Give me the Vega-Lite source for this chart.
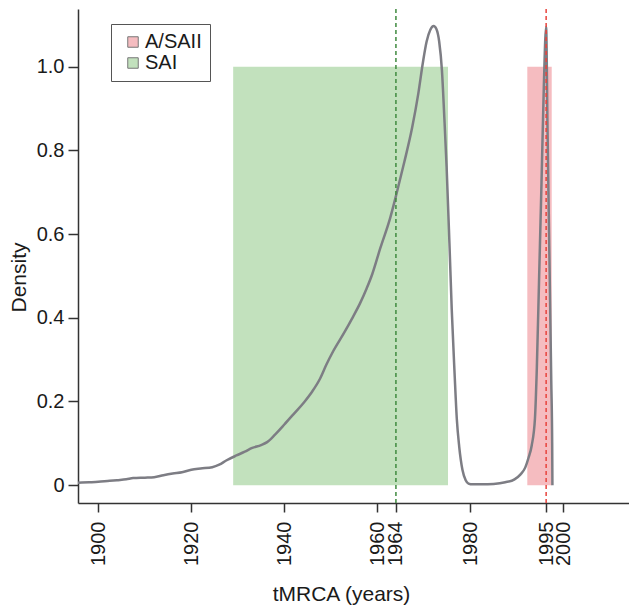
{
  "$schema": "https://vega.github.io/schema/vega-lite/v6.json",
  "width": 551,
  "height": 494,
  "autosize": {"type": "none"},
  "padding": {"left": 78, "top": 9, "right": 0, "bottom": 104},
  "config": {
    "view": {"stroke": null},
    "font": "Liberation Sans",
    "axis": {
      "grid": false,
      "domainColor": "#333333",
      "domainWidth": 1.5,
      "tickColor": "#333333",
      "tickWidth": 1.5,
      "labelColor": "#1a1a1a",
      "titleColor": "#1a1a1a",
      "labelFont": "Liberation Sans",
      "titleFont": "Liberation Sans",
      "labelFontSize": 20,
      "titleFontSize": 21,
      "titleFontWeight": "normal",
      "labelOverlap": false,
      "labelFlush": false,
      "labelBound": false
    }
  },
  "layer": [
    {
      "data": {"values": [
        {"group": "A/SAII", "start": 1992.25, "end": 1997.5, "low": 0, "high": 1},
        {"group": "SAI", "start": 1929.0, "end": 1975.2, "low": 0, "high": 1}
      ]},
      "mark": {"type": "rect", "opacity": 1},
      "encoding": {
        "x": {"field": "start", "type": "quantitative",
          "scale": {"domain": [1895.63, 2014.12], "nice": false, "zero": false},
          "axis": {
            "values": [1900, 1920, 1940, 1960, 1964, 1980, 1996.3, 2000],
            "labelExpr": "datum.value > 1996 && datum.value < 1997 ? '1995' : format(datum.value, 'd')",
            "labelAngle": 270,
            "labelAlign": "right",
            "labelBaseline": "middle",
            "labelPadding": 9,
            "tickSize": 9,
            "title": "tMRCA (years)",
            "titleX": 263,
            "titleY": 97,
            "titleBaseline": "alphabetic"
          }},
        "x2": {"field": "end"},
        "y": {"field": "low", "type": "quantitative",
          "scale": {"domain": [-0.0425, 1.1377], "nice": false, "zero": false},
          "axis": {
            "values": [0, 0.2, 0.4, 0.6, 0.8, 1.0],
            "labelExpr": "datum.value == 0 ? '0' : format(datum.value, '.1f')",
            "labelPadding": 4,
            "tickSize": 10,
            "title": "Density",
            "titleX": -59,
            "titleY": 268,
            "titleAngle": 270,
            "titleAlign": "center",
            "titleBaseline": "middle"
          }},
        "y2": {"field": "high"},
        "color": {"field": "group", "type": "nominal",
          "scale": {"domain": ["A/SAII", "SAI"], "range": ["#f5bcc0", "#c2e1bd"]},
          "legend": {
            "title": null,
            "orient": "none",
            "legendX": 33,
            "legendY": 15,
            "padding": 8,
            "strokeColor": "#555555",
            "fillColor": "#ffffff",
            "symbolType": "square",
            "symbolSize": 110,
            "symbolStrokeColor": "#777777",
            "symbolStrokeWidth": 1,
            "symbolOpacity": 1,
            "symbolOffset": 4,
            "labelOffset": 2,
            "labelFontSize": 20,
            "labelColor": "#1a1a1a",
            "rowPadding": 1
          }}
      }
    },
    {
      "data": {"values": [
        {"year": 1895.63, "density": 0.006}, {"year": 1898, "density": 0.007}, {"year": 1900, "density": 0.008},
        {"year": 1902, "density": 0.010}, {"year": 1904, "density": 0.012}, {"year": 1906, "density": 0.014},
        {"year": 1907.5, "density": 0.017}, {"year": 1910, "density": 0.018}, {"year": 1912, "density": 0.019},
        {"year": 1914, "density": 0.024}, {"year": 1916, "density": 0.028}, {"year": 1918, "density": 0.031},
        {"year": 1920, "density": 0.037}, {"year": 1922, "density": 0.040}, {"year": 1924.5, "density": 0.043},
        {"year": 1926, "density": 0.049}, {"year": 1927.5, "density": 0.059}, {"year": 1929.7, "density": 0.071},
        {"year": 1931.5, "density": 0.080}, {"year": 1933.1, "density": 0.089}, {"year": 1935, "density": 0.096},
        {"year": 1936.3, "density": 0.103}, {"year": 1938, "density": 0.121}, {"year": 1940, "density": 0.145},
        {"year": 1942, "density": 0.170}, {"year": 1944.3, "density": 0.199}, {"year": 1946, "density": 0.224},
        {"year": 1947.7, "density": 0.255}, {"year": 1949, "density": 0.287}, {"year": 1950.5, "density": 0.320},
        {"year": 1952.9, "density": 0.365}, {"year": 1954.5, "density": 0.397}, {"year": 1956.3, "density": 0.435},
        {"year": 1957.7, "density": 0.470}, {"year": 1958.9, "density": 0.504}, {"year": 1960.6, "density": 0.565},
        {"year": 1962.8, "density": 0.640}, {"year": 1964.1, "density": 0.695}, {"year": 1965.8, "density": 0.772},
        {"year": 1967.5, "density": 0.855}, {"year": 1968.8, "density": 0.935}, {"year": 1969.8, "density": 1.010},
        {"year": 1970.6, "density": 1.060}, {"year": 1971.4, "density": 1.088}, {"year": 1972.1, "density": 1.097},
        {"year": 1972.7, "density": 1.090}, {"year": 1973.3, "density": 1.060}, {"year": 1973.9, "density": 0.990},
        {"year": 1974.4, "density": 0.880}, {"year": 1974.9, "density": 0.760}, {"year": 1975.5, "density": 0.580},
        {"year": 1976.0, "density": 0.420}, {"year": 1976.6, "density": 0.270}, {"year": 1977.1, "density": 0.157},
        {"year": 1977.6, "density": 0.093}, {"year": 1978.3, "density": 0.037}, {"year": 1979.0, "density": 0.012},
        {"year": 1979.6, "density": 0.004}, {"year": 1980.5, "density": 0.002}, {"year": 1982.5, "density": 0.002},
        {"year": 1985, "density": 0.003}, {"year": 1987.5, "density": 0.007}, {"year": 1989.5, "density": 0.014},
        {"year": 1990.8, "density": 0.026}, {"year": 1991.8, "density": 0.042}, {"year": 1992.5, "density": 0.065},
        {"year": 1993.2, "density": 0.095}, {"year": 1993.9, "density": 0.160}, {"year": 1994.3, "density": 0.280},
        {"year": 1994.8, "density": 0.500}, {"year": 1995.3, "density": 0.720}, {"year": 1995.8, "density": 0.950},
        {"year": 1996.3, "density": 1.095}, {"year": 1996.6, "density": 0.850}, {"year": 1997.0, "density": 0.550},
        {"year": 1997.4, "density": 0.250}, {"year": 1997.6, "density": 0.100}, {"year": 1997.65, "density": 0.0}
      ]},
      "mark": {"type": "line", "color": "#7d7d84", "strokeWidth": 2.5, "interpolate": "monotone"},
      "encoding": {
        "x": {"field": "year", "type": "quantitative"},
        "y": {"field": "density", "type": "quantitative"}
      }
    },
    {
      "data": {"values": [{"year": 1964}]},
      "mark": {"type": "rule", "color": "#3f8a3f", "strokeWidth": 1.5, "strokeDash": [4, 3]},
      "encoding": {"x": {"field": "year", "type": "quantitative"}}
    },
    {
      "data": {"values": [{"year": 1996.3}]},
      "mark": {"type": "rule", "color": "#e8433c", "strokeWidth": 1.5, "strokeDash": [4, 3]},
      "encoding": {"x": {"field": "year", "type": "quantitative"}}
    }
  ]
}
